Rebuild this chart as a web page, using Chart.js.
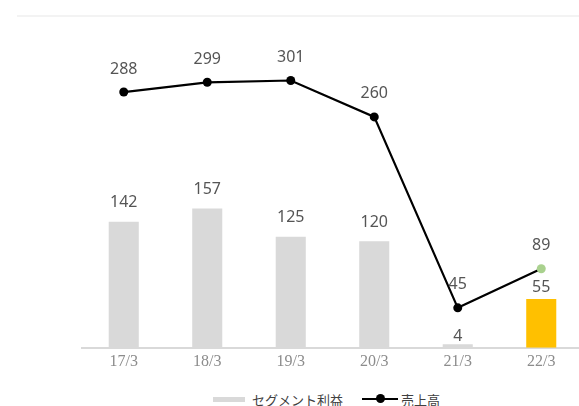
<!DOCTYPE html>
<html lang="ja">
<head>
<meta charset="utf-8">
<script src="https://cdn.jsdelivr.net/npm/chart.js@4/dist/chart.umd.min.js"></script>
<style>
    html, body { margin: 0; padding: 0; background: #fff; }
    body { width: 579px; height: 406px; overflow: hidden; position: relative; }
    .topRule { position: absolute; left: 17px; right: 0; top: 15px; height: 2px; background: #f3f3f3; }
    #wrap { position: absolute; left: 0; top: 0; width: 600px; height: 375px; }
    .legend { position: absolute; top: 390px; left: 213px; height: 18px; display: flex; align-items: center;
              font-family: "Noto Sans CJK JP", sans-serif; font-size: 13px; color: #404040; white-space: nowrap; }
    .legend .barKey { width: 32px; height: 5px; background: #d9d9d9; margin-right: 7px; }
    .legend .lineKey { position: relative; width: 36px; height: 2px; background: #000; margin: 0 3px 0 19px; }
    .legend .lineKey::after { content: ''; position: absolute; left: 14px; top: -4px; width: 9px; height: 9px; border-radius: 50%; background: #000; }
</style>
</head>
<body>
<div class="topRule"></div>
<div id="wrap"><canvas id="chart" width="600" height="375"></canvas></div>
<div class="legend">
    <span class="barKey"></span><span>セグメント利益</span>
    <span class="lineKey"></span><span>売上高</span>
</div>
<script>
const categories = ['17/3', '18/3', '19/3', '20/3', '21/3', '22/3'];
const segmentProfit = [142, 157, 125, 120, 4, 55];
const sales = [288, 299, 301, 260, 45, 89];

const barColors = ['#d9d9d9', '#d9d9d9', '#d9d9d9', '#d9d9d9', '#d9d9d9', '#ffc000'];
const pointColors = ['#000', '#000', '#000', '#000', '#000', '#a9d18e'];
// label lift above mark (px), Excel had two bar labels nudged down
const barLabelLift = [19, 19, 19, 19, 8, 12];
const lineLabelLift = 23;

const valueLabels = {
    id: 'valueLabels',
    afterDatasetsDraw(chart) {
        const ctx = chart.ctx;
        ctx.save();
        ctx.font = '16px "Noto Sans", sans-serif';
        ctx.fillStyle = '#555555';
        ctx.textAlign = 'center';
        ctx.textBaseline = 'middle';
        chart.data.datasets.forEach((ds, di) => {
            const meta = chart.getDatasetMeta(di);
            meta.data.forEach((el, i) => {
                const lift = ds.type === 'bar' ? barLabelLift[i] : lineLabelLift;
                ctx.fillText(String(ds.data[i]), el.x, el.y - lift);
            });
        });
        ctx.restore();
    }
};

new Chart(document.getElementById('chart'), {
    data: {
        labels: categories,
        datasets: [
            {
                type: 'line',
                label: '売上高',
                data: sales,
                borderColor: '#000',
                borderWidth: 2.2,
                pointRadius: 4.5,
                pointBackgroundColor: pointColors,
                pointBorderColor: pointColors,
                pointBorderWidth: 0,
                tension: 0,
                order: 0
            },
            {
                type: 'bar',
                label: 'セグメント利益',
                data: segmentProfit,
                backgroundColor: barColors,
                borderWidth: 0,
                categoryPercentage: 1,
                barPercentage: 0.36,
                order: 1
            }
        ]
    },
    options: {
        responsive: false,
        animation: false,
        layout: { padding: { left: 82, right: 17, top: 37, bottom: 0 } },
        scales: {
            x: {
                grid: { display: false, drawTicks: false },
                border: { display: true, color: '#d9d9d9', width: 2 },
                ticks: {
                    padding: 4,
                    color: '#8c8c8c',
                    font: { family: '"Liberation Serif", serif', size: 16 }
                }
            },
            y: { display: false, min: 0, max: 350 }
        },
        plugins: {
            legend: { display: false },
            tooltip: { enabled: false }
        }
    },
    plugins: [valueLabels]
});
</script>
</body>
</html>
